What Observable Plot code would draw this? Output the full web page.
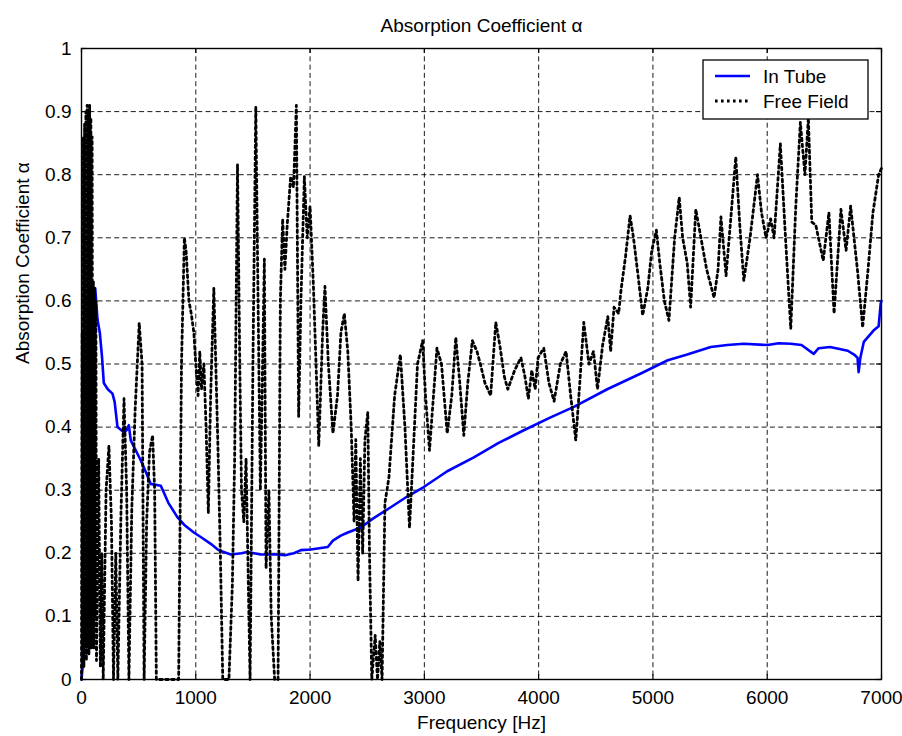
<!DOCTYPE html>
<html>
<head>
<meta charset="utf-8">
<script src="https://cdn.jsdelivr.net/npm/d3@7"></script>
<script src="https://cdn.jsdelivr.net/npm/@observablehq/plot@0.6"></script>
<style>
  html, body { margin: 0; padding: 0; background: #fff; }
</style>
</head>
<body>
<div id="chart"></div>
<script>
// Axis ticks and labels
const xTicks = [0, 1000, 2000, 3000, 4000, 5000, 6000, 7000];
const yTicks = [0, 0.1, 0.2, 0.3, 0.4, 0.5, 0.6, 0.7, 0.8, 0.9, 1];
const yTickLabels = ["0", "0.1", "0.2", "0.3", "0.4", "0.5", "0.6", "0.7", "0.8", "0.9", "1"];
const titleText = "Absorption Coefficient \u03b1";
const xLabel = "Frequency [Hz]";
const yLabel = "Absorption Coefficient \u03b1";
const seriesNames = ["In Tube", "Free Field"];

// In Tube measurement: frequency [Hz] and absorption coefficient
const tubeFreq = [0, 10, 20, 30, 40, 50, 60, 70, 80, 90, 100, 120, 140, 160, 180, 195, 230, 271, 290, 315,
  370, 395, 414, 431, 519, 560, 606, 694, 760, 840, 900, 983, 1050, 1131, 1200, 1306, 1400, 1450, 1569, 1700,
  1780, 1858, 1920, 2006, 2155, 2200, 2269, 2330, 2444, 2550, 2706, 2850, 2995, 3200, 3433, 3650, 3870, 4100,
  4308, 4600, 4894, 5130, 5300, 5506, 5650, 5795, 6004, 6100, 6206, 6300, 6407, 6450, 6550, 6705, 6760, 6790,
  6800, 6815, 6845, 6930, 6975, 6993, 7000];
const tubeAlpha = [0, 0.02, 0.1, 0.155, 0.06, 0.15, 0.08, 0.14, 0.35, 0.55, 0.62, 0.62, 0.57, 0.55, 0.51, 0.47, 0.46, 0.453, 0.44, 0.40,
  0.392, 0.395, 0.403, 0.379, 0.347, 0.33, 0.31, 0.307, 0.28, 0.257, 0.245, 0.233, 0.225, 0.215, 0.205, 0.198, 0.2, 0.202, 0.198, 0.198,
  0.197, 0.2, 0.205, 0.206, 0.21, 0.22, 0.228, 0.233, 0.241, 0.255, 0.273, 0.29, 0.305, 0.33, 0.352, 0.375, 0.395, 0.415,
  0.432, 0.46, 0.485, 0.506, 0.515, 0.527, 0.53, 0.532, 0.53, 0.533, 0.532, 0.53, 0.516, 0.525, 0.527, 0.521, 0.515, 0.51,
  0.487, 0.51, 0.535, 0.553, 0.56, 0.596, 0.6];

// Free Field measurement: frequency [Hz] and absorption coefficient
const fieldFreq = [0, 6, 10, 16, 21, 27, 32, 38, 43, 49, 54, 60, 65, 71, 76, 82, 87, 93, 98, 104,
  109, 115, 120, 126, 131, 150, 165, 178, 190, 215, 240, 262, 280, 300, 318, 345, 372, 395, 415, 440,
  470, 505, 530, 548, 570, 595, 622, 640, 655, 700, 760, 820, 850, 875, 900, 915, 940, 960, 983, 1000,
  1020, 1035, 1050, 1071, 1090, 1110, 1130, 1158, 1175, 1195, 1215, 1236, 1290, 1320, 1340, 1365, 1385, 1400, 1420, 1440,
  1455, 1475, 1500, 1525, 1545, 1565, 1580, 1600, 1615, 1640, 1660, 1690, 1720, 1740, 1760, 1780, 1800, 1830, 1855, 1880,
  1900, 1920, 1950, 1975, 2000, 2030, 2076, 2110, 2130, 2160, 2200, 2240, 2270, 2300, 2330, 2360, 2385, 2400, 2420, 2440,
  2460, 2480, 2505, 2520, 2540, 2570, 2590, 2610, 2630, 2655, 2690, 2740, 2790, 2830, 2870, 2900, 2940, 2985, 3010, 3045,
  3080, 3110, 3150, 3200, 3240, 3275, 3310, 3345, 3380, 3420, 3460, 3490, 3530, 3580, 3625, 3660, 3700, 3730, 3790, 3845,
  3880, 3910, 3940, 3970, 3995, 4045, 4090, 4135, 4190, 4240, 4280, 4325, 4360, 4395, 4440, 4480, 4515, 4560, 4605, 4630,
  4660, 4700, 4720, 4760, 4800, 4830, 4870, 4910, 4955, 4990, 5030, 5060, 5100, 5140, 5190, 5230, 5260, 5300, 5330, 5375,
  5420, 5470, 5535, 5570, 5595, 5640, 5690, 5725, 5760, 5795, 5850, 5915, 5950, 5990, 6030, 6060, 6115, 6160, 6206, 6250,
  6290, 6330, 6360, 6390, 6425, 6490, 6540, 6585, 6645, 6690, 6730, 6790, 6835, 6880, 6925, 6975, 7000];
const fieldAlpha = [0, 0.55, 0.05, 0.86, 0.02, 0.88, 0.04, 0.9, 0.03, 0.91, 0.05, 0.9, 0.04, 0.91, 0.06, 0.89, 0.05, 0.86, 0.08, 0.63,
  0.05, 0.62, 0.1, 0.6, 0.03, 0.35, 0.02, 0.2, 0, 0.3, 0.37, 0.25, 0, 0.2, 0, 0.26, 0.445, 0.3, 0, 0.27,
  0.43, 0.565, 0.5, 0, 0.25, 0.36, 0.387, 0.3, 0, 0, 0, 0, 0, 0.5, 0.7, 0.68, 0.6, 0.58, 0.55, 0.5,
  0.45, 0.52, 0.46, 0.5, 0.4, 0.264, 0.45, 0.62, 0.5, 0.36, 0.2, 0, 0, 0.15, 0.35, 0.816, 0.5, 0.3, 0.25, 0.35,
  0.2, 0, 0.5, 0.908, 0.6, 0.3, 0.45, 0.666, 0.176, 0.3, 0.1, 0, 0, 0.6, 0.73, 0.65, 0.72, 0.797, 0.78, 0.91,
  0.417, 0.6, 0.797, 0.7, 0.75, 0.62, 0.37, 0.55, 0.623, 0.5, 0.39, 0.45, 0.55, 0.58, 0.52, 0.4, 0.25, 0.38, 0.156, 0.35,
  0.2, 0.38, 0.423, 0.2, 0, 0.07, 0, 0.06, 0, 0.28, 0.32, 0.45, 0.515, 0.4, 0.24, 0.35, 0.5, 0.537, 0.45, 0.363,
  0.45, 0.525, 0.5, 0.39, 0.45, 0.542, 0.47, 0.387, 0.47, 0.537, 0.52, 0.5, 0.47, 0.45, 0.566, 0.53, 0.48, 0.46, 0.49, 0.51,
  0.48, 0.445, 0.49, 0.46, 0.51, 0.525, 0.47, 0.441, 0.5, 0.52, 0.45, 0.379, 0.47, 0.566, 0.5, 0.52, 0.46, 0.53, 0.575, 0.52,
  0.59, 0.58, 0.616, 0.67, 0.735, 0.7, 0.64, 0.577, 0.62, 0.68, 0.712, 0.66, 0.6, 0.569, 0.7, 0.764, 0.7, 0.66, 0.59, 0.745,
  0.7, 0.65, 0.605, 0.65, 0.733, 0.64, 0.75, 0.828, 0.72, 0.632, 0.7, 0.8, 0.74, 0.7, 0.73, 0.7, 0.849, 0.7, 0.556, 0.75,
  0.883, 0.8, 0.89, 0.725, 0.72, 0.664, 0.74, 0.58, 0.745, 0.68, 0.75, 0.648, 0.558, 0.645, 0.74, 0.8, 0.81];

const tube = tubeFreq.map((f, i) => ({f, a: tubeAlpha[i]}));
const field = fieldFreq.map((f, i) => ({f, a: fieldAlpha[i]}));

const font = "'Liberation Sans', Arial, Helvetica, sans-serif";
const fs = 19;
const dots = "2.6,3.4";

const chart = Plot.plot({
  width: 902,
  height: 736,
  marginLeft: 81,
  marginRight: 21,
  marginTop: 48,
  marginBottom: 57,
  style: {fontFamily: font, fontSize: fs + "px", color: "#000", background: "#fff"},
  x: {domain: [0, 7000], ticks: xTicks},
  y: {domain: [0, 1], ticks: yTicks},
  marks: [
    Plot.gridX(xTicks.slice(1, -1), {stroke: "#000", strokeOpacity: 0.9, strokeWidth: 1, strokeDasharray: "5,3.3"}),
    Plot.gridY(yTicks.slice(1, -1), {stroke: "#000", strokeOpacity: 0.9, strokeWidth: 1, strokeDasharray: "5,3.3"}),
    // inward tick marks on all four sides
    Plot.ruleX(xTicks, {y1: 0, y2: 0.008, stroke: "#000", strokeWidth: 1.2}),
    Plot.ruleX(xTicks, {y1: 1, y2: 0.992, stroke: "#000", strokeWidth: 1.2}),
    Plot.ruleY(yTicks, {x1: 0, x2: 44, stroke: "#000", strokeWidth: 1.2}),
    Plot.ruleY(yTicks, {x1: 7000, x2: 6956, stroke: "#000", strokeWidth: 1.2}),
    Plot.line(tube, {x: "f", y: "a", stroke: "#0000ff", strokeWidth: 2.6, strokeLinejoin: "round"}),
    Plot.line(field, {x: "f", y: "a", stroke: "#000", strokeWidth: 2.8, strokeDasharray: dots}),
    Plot.frame({stroke: "#000", strokeWidth: 1.4}),
    Plot.axisX(xTicks, {tickSize: 0, tickPadding: 11, label: null, fontSize: fs, tickFormat: d => String(d)}),
    Plot.axisY(yTicks, {tickSize: 0, tickPadding: 10, label: null, fontSize: fs, tickFormat: (d, i) => yTickLabels[i]}),
    Plot.text([titleText], {frameAnchor: "top", dy: -23, fontSize: fs, lineAnchor: "middle", fill: "#000"}),
    Plot.text([xLabel], {frameAnchor: "bottom", dy: 43, fontSize: fs, lineAnchor: "middle", fill: "#000"}),
    Plot.text([yLabel], {frameAnchor: "left", dx: -59, rotate: -90, fontSize: fs, lineAnchor: "middle", fill: "#000"})
  ]
});

document.getElementById("chart").appendChild(chart);

// Legend box in the upper right corner of the axes
const svg = d3.select(chart);
const lg = svg.append("g").attr("font-family", font).attr("font-size", fs).attr("text-anchor", "start");
lg.append("rect").attr("x", 703).attr("y", 60).attr("width", 165).attr("height", 59)
  .attr("fill", "#fff").attr("stroke", "#000").attr("stroke-width", 1.3);
lg.append("line").attr("x1", 715).attr("x2", 750).attr("y1", 76).attr("y2", 76)
  .attr("stroke", "#0000ff").attr("stroke-width", 2.6);
lg.append("line").attr("x1", 715).attr("x2", 750).attr("y1", 101).attr("y2", 101)
  .attr("stroke", "#000").attr("stroke-width", 2.8).attr("stroke-dasharray", dots);
lg.append("text").attr("x", 763).attr("y", 76).attr("dy", "0.35em").attr("text-anchor", "start").attr("fill", "#000").text(seriesNames[0]);
lg.append("text").attr("x", 763).attr("y", 101).attr("dy", "0.35em").attr("text-anchor", "start").attr("fill", "#000").text(seriesNames[1]);
</script>
</body>
</html>
